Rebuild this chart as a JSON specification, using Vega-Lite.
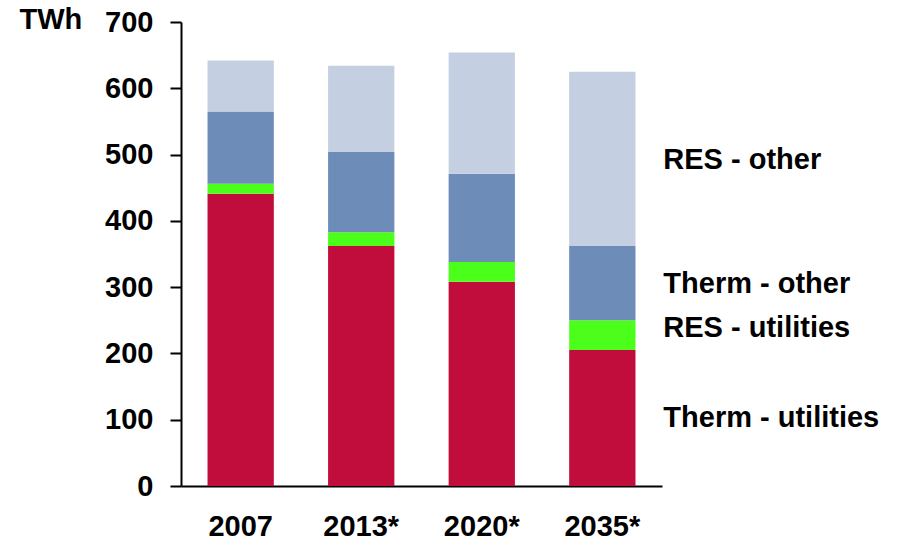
{
  "$schema": "https://vega.github.io/schema/vega-lite/v6.json",
  "width": 481,
  "height": 464,
  "autosize": {"type": "none"},
  "padding": {"left": 181, "top": 22, "right": 238, "bottom": 56},
  "background": "white",
  "config": {"view": {"stroke": null}, "font": "Liberation Sans"},
  "datasets": {
    "bars": [
      {"year": "2007", "source": "Therm - utilities", "ord": 1, "value": 441},
      {"year": "2007", "source": "RES - utilities", "ord": 2, "value": 15},
      {"year": "2007", "source": "Therm - other", "ord": 3, "value": 109},
      {"year": "2007", "source": "RES - other", "ord": 4, "value": 77},
      {"year": "2013*", "source": "Therm - utilities", "ord": 1, "value": 362},
      {"year": "2013*", "source": "RES - utilities", "ord": 2, "value": 21},
      {"year": "2013*", "source": "Therm - other", "ord": 3, "value": 121},
      {"year": "2013*", "source": "RES - other", "ord": 4, "value": 130},
      {"year": "2020*", "source": "Therm - utilities", "ord": 1, "value": 308},
      {"year": "2020*", "source": "RES - utilities", "ord": 2, "value": 30},
      {"year": "2020*", "source": "Therm - other", "ord": 3, "value": 133},
      {"year": "2020*", "source": "RES - other", "ord": 4, "value": 183},
      {"year": "2035*", "source": "Therm - utilities", "ord": 1, "value": 205},
      {"year": "2035*", "source": "RES - utilities", "ord": 2, "value": 45},
      {"year": "2035*", "source": "Therm - other", "ord": 3, "value": 112},
      {"year": "2035*", "source": "RES - other", "ord": 4, "value": 263}
    ],
    "labels": [
      {"year": "2035*", "label": "RES - other", "pos": 492},
      {"year": "2035*", "label": "Therm - other", "pos": 305},
      {"year": "2035*", "label": "RES - utilities", "pos": 238},
      {"year": "2035*", "label": "Therm - utilities", "pos": 103}
    ]
  },
  "layer": [
    {
      "data": {"name": "bars"},
      "mark": {"type": "bar"},
      "encoding": {
        "x": {
          "field": "year", "type": "nominal", "sort": null,
          "scale": {"paddingInner": 0.45, "paddingOuter": 0.22},
          "axis": {
            "title": null, "labelAngle": 0, "ticks": false,
            "domainColor": "black", "domainWidth": 2,
            "labelFontSize": 29, "labelFontWeight": "bold", "labelColor": "black",
            "labelPadding": 26, "labelFont": "Liberation Sans"
          }
        },
        "y": {
          "field": "value", "type": "quantitative", "stack": "zero",
          "scale": {"domain": [0, 700], "nice": false},
          "axis": {
            "title": "TWh", "titleAngle": 0, "titleAlign": "left", "titleBaseline": "middle",
            "titleX": -162, "titleY": -3, "titleFontSize": 29, "titleFontWeight": "bold",
            "titleColor": "black", "titleFont": "Liberation Sans",
            "values": [0, 100, 200, 300, 400, 500, 600, 700],
            "grid": false, "tickSize": 11, "tickColor": "black", "tickWidth": 2,
            "domainColor": "black", "domainWidth": 2,
            "labelFontSize": 29, "labelFontWeight": "bold", "labelColor": "black",
            "labelPadding": 17, "labelFont": "Liberation Sans"
          }
        },
        "color": {
          "field": "source", "type": "nominal", "legend": null,
          "scale": {
            "domain": ["Therm - utilities", "RES - utilities", "Therm - other", "RES - other"],
            "range": ["#C10D3C", "#4CFF1B", "#6D8DB8", "#C4CFE1"]
          }
        },
        "order": {"field": "ord", "type": "quantitative"}
      }
    },
    {
      "data": {"name": "labels"},
      "mark": {
        "type": "text", "align": "left", "baseline": "middle", "dx": 61,
        "fontSize": 29, "fontWeight": "bold", "color": "black", "font": "Liberation Sans"
      },
      "encoding": {
        "x": {"field": "year", "type": "nominal", "sort": null},
        "y": {"field": "pos", "type": "quantitative"},
        "text": {"field": "label"}
      }
    }
  ]
}
